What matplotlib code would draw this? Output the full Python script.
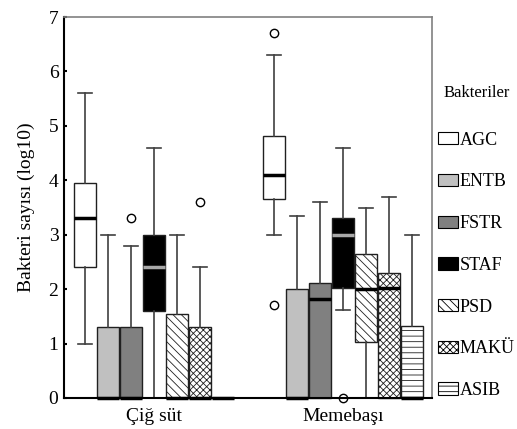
import matplotlib
matplotlib.use('Agg')
import matplotlib.pyplot as plt
from matplotlib.patches import Patch

plt.rcParams['font.family'] = ['Liberation Serif', 'DejaVu Serif']
plt.rcParams['hatch.linewidth'] = 0.6

# Veriler
gruplar = ['Çiğ süt', 'Memebaşı']
bakteriler = ['AGC', 'ENTB', 'FSTR', 'STAF', 'PSD', 'MAKÜ', 'ASIB']

# Çiğ süt
cig_q1 = [2.4, 0, 0, 1.6, 0, 0, 0]
cig_med = [3.3, 0, 0, 2.4, 0, 0, 0]
cig_q3 = [3.95, 1.3, 1.3, 3.0, 1.55, 1.3, 0]
cig_alt = [1.0, 0, 0, 0, 0, 0, 0]
cig_ust = [5.6, 3.0, 2.8, 4.6, 3.0, 2.4, 0]
cig_uc = [[], [], [3.3], [], [], [3.6], []]

# Memebaşı
meme_q1 = [3.65, 0, 0, 2.02, 1.03, 0, 0]
meme_med = [4.1, 0, 1.82, 3.0, 2.01, 2.03, 0]
meme_q3 = [4.82, 2.0, 2.11, 3.31, 2.65, 2.3, 1.32]
meme_alt = [3.0, 0, 0, 1.62, 0, 0, 0]
meme_ust = [6.3, 3.35, 3.6, 4.6, 3.5, 3.7, 3.0]
meme_uc = [[6.7, 1.7], [], [], [0.0], [], [], []]

renkler = ['white', '#c0c0c0', '#808080', 'black', 'white', 'white', 'white']
taramalar = [None, None, None, None, '\\\\\\\\', 'xxxxx', '---']
medyan_renk = ['black', 'black', 'black', '#a8a8a8', 'black', 'black', 'black']

fig = plt.figure(figsize=(5.17, 4.29), dpi=100)
ax = fig.add_axes([64/517, 1-398/429, (432-64)/517, (398-17)/429])

aralik = 0.1217
genislik = 0.116

veri = [(cig_q1, cig_med, cig_q3, cig_alt, cig_ust, cig_uc),
        (meme_q1, meme_med, meme_q3, meme_alt, meme_ust, meme_uc)]

for g, (q1, med, q3, alt, ust, uc) in enumerate(veri):
    for i in range(len(bakteriler)):
        st = [{'q1': q1[i], 'med': med[i], 'q3': q3[i],
               'whislo': alt[i], 'whishi': ust[i], 'fliers': uc[i]}]
        poz = g + 1 + (i - 3) * aralik
        r = ax.bxp(st, positions=[poz], widths=genislik, patch_artist=True,
                   manage_ticks=False, capwidths=genislik * 0.65,
                   boxprops=dict(facecolor=renkler[i], edgecolor='#202020',
                                 linewidth=1.0, hatch=taramalar[i]),
                   medianprops=dict(color=medyan_renk[i], linewidth=2.5,
                                    solid_capstyle='butt'),
                   whiskerprops=dict(color='#404040', linewidth=1.2),
                   capprops=dict(color='#404040', linewidth=1.2),
                   flierprops=dict(marker='o', markerfacecolor='white',
                                   markeredgecolor='black', markersize=6,
                                   markeredgewidth=1.0))
        for b in r['boxes']:
            b.set_clip_on(False)
        for m in r['medians']:
            m.set_clip_on(False)
        for f in r['fliers']:
            f.set_clip_on(False)

ax.set_xlim(0.524, 2.47)
ax.set_ylim(0, 7)
ax.set_yticks(range(8))
ax.set_xticks([1, 2])
ax.set_xticklabels(gruplar, fontsize=14)
ax.tick_params(axis='x', length=0, pad=7)
ax.tick_params(axis='y', direction='in', length=2, width=1.5, labelsize=14, pad=4)
ax.set_ylabel('Bakteri sayısı (log10)', fontsize=14, labelpad=10)

for s in ['top', 'right']:
    ax.spines[s].set_color('#808080')
    ax.spines[s].set_linewidth(1.2)
for s in ['left', 'bottom']:
    ax.spines[s].set_color('black')
    ax.spines[s].set_linewidth(1.5)

kulplar = [Patch(facecolor=renkler[i], edgecolor='black', hatch=taramalar[i], linewidth=0.8)
           for i in range(len(bakteriler))]
leg = fig.legend(kulplar, bakteriler, loc='upper left',
                 bbox_to_anchor=(438/517, 1-85/429), frameon=False,
                 title='Bakteriler', fontsize=13, title_fontsize=12,
                 handlelength=1.1, handleheight=0.67, handletextpad=0.1,
                 labelspacing=1.37, borderpad=0, borderaxespad=0)
leg._legend_box.sep = 22

fig.savefig('out.png', dpi=100)
